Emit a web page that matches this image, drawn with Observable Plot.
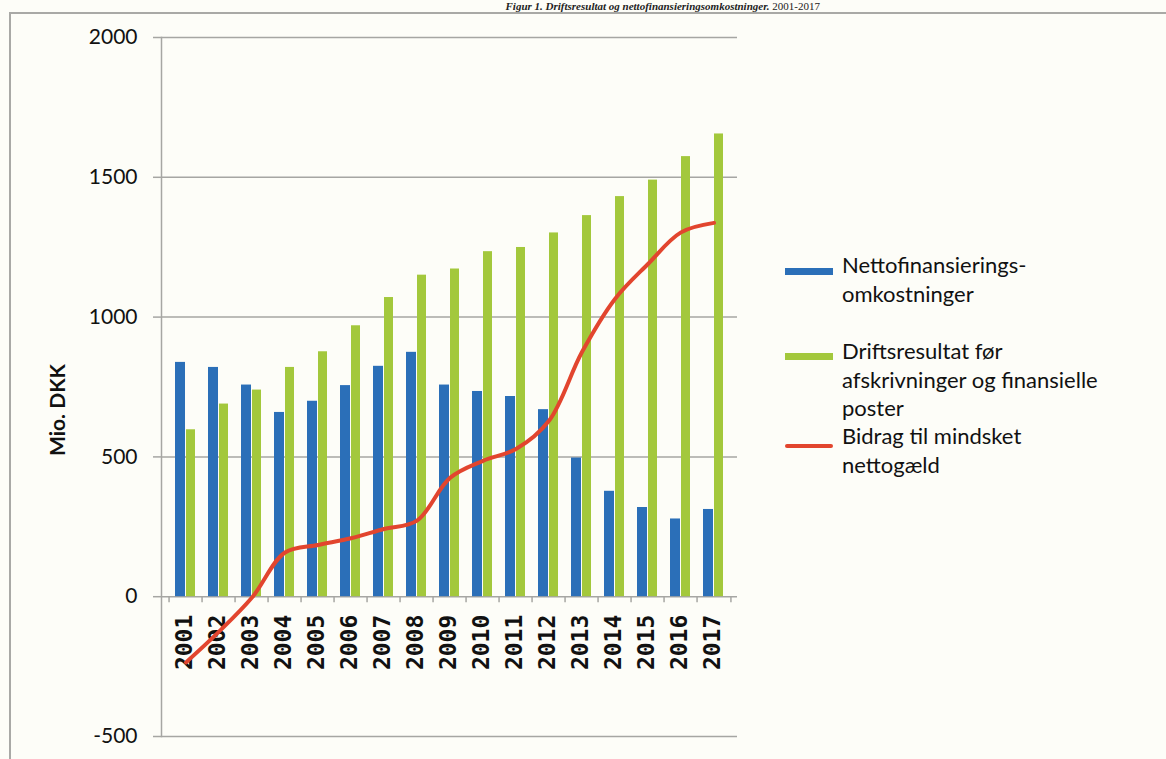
<!DOCTYPE html>
<html>
<head>
<meta charset="utf-8">
<script src="https://cdn.jsdelivr.net/npm/d3@7"></script>
<script src="https://cdn.jsdelivr.net/npm/@observablehq/plot@0.6"></script>
<style>
  html, body { margin: 0; padding: 0; background: #fdfdf8; }
  #wrap { position: relative; width: 1166px; height: 759px; overflow: hidden; background: #fdfdf8; }
  #border { position: absolute; left: 9px; top: 12px; width: 1200px; height: 800px; border-left: 2px solid #a9a9a6; border-top: 2px solid #a9a9a6; }
  #title { position: absolute; right: 346px; top: 0px; white-space: nowrap; font-family: "Liberation Serif", serif; font-size: 11px; line-height: 12px; color: #222; }
  #title i { font-weight: bold; }
  #chart { position: absolute; left: 0; top: 0; }
  #ylabel { position: absolute; left: -43px; top: 397px; width: 200px; height: 26px; line-height: 26px; text-align: center; transform: rotate(-90deg); transform-origin: 100px 13px; font-family: Lato, sans-serif; font-weight: bold; font-size: 21px; color: #111; white-space: nowrap; }
  .sw { position: absolute; left: 785px; width: 48px; }
  .lt { position: absolute; left: 842px; font-family: Lato, sans-serif; font-size: 22px; line-height: 28.5px; color: #111; white-space: nowrap; }
</style>
</head>
<body>
<div id="wrap">
  <div id="border"></div>
  <div id="title"><i>Figur 1. Driftsresultat og nettofinansieringsomkostninger.</i> 2001-2017</div>
  <div id="chart"></div>
  <div id="ylabel">Mio. DKK</div>
  <div class="sw" style="top:268px;height:7px;background:#2b6fb8"></div>
  <div class="lt" style="top:251px">Nettofinansierings-<br>omkostninger</div>
  <div class="sw" style="top:353px;height:7px;background:#a3c83c"></div>
  <div class="lt" style="top:337px">Driftsresultat før<br>afskrivninger og finansielle<br>poster</div>
  <div class="sw" style="top:444px;height:4px;background:#e2452e;border-radius:2px"></div>
  <div class="lt" style="top:422px">Bidrag til mindsket<br>nettogæld</div>
</div>
<script>
const years = ["2001","2002","2003","2004","2005","2006","2007","2008","2009","2010","2011","2012","2013","2014","2015","2016","2017"];
const nettofinansiering = [838, 820, 757, 659, 699, 755, 824, 874, 757, 734, 716, 669, 496, 377, 319, 278, 312];
const driftsresultat = [597, 689, 739, 820, 876, 969, 1070, 1150, 1172, 1234, 1249, 1301, 1363, 1431, 1490, 1574, 1655];
const bidrag = [-235, -125, -3, 158, 185, 209, 242, 272, 425, 486, 528, 629, 875, 1065, 1190, 1303, 1337];
const yTicks = [-500, 0, 500, 1000, 1500, 2000];

const rows = years.map((y, i) => ({year: y, net: nettofinansiering[i], drift: driftsresultat[i], bidrag: bidrag[i]}));

const W = 1166, H = 759;
const mL = 161, mR = 429, mT = 37, mB = 23;
const bw = (W - mL - mR) / years.length;
const gray = "#a6a6a3";

const chart = Plot.plot({
  width: W, height: H,
  marginLeft: mL, marginRight: mR, marginTop: mT, marginBottom: mB,
  style: {background: "transparent", overflow: "visible"},
  x: {domain: years, padding: 0, axis: null},
  y: {domain: [-500, 2000], axis: null},
  marks: [
    Plot.ruleY(yTicks, {stroke: gray, strokeWidth: 1.5}),
    Plot.axisY({ticks: yTicks, tickSize: 8, tickPadding: 16, fontSize: 21, fontFamily: "Lato, sans-serif", fill: "#111", stroke: gray, strokeWidth: 1.5, tickFormat: d => String(d).replace("−", "-"), label: null}),
    Plot.frame({anchor: "left", stroke: gray, strokeWidth: 1.5}),
    Plot.barY(rows, {x: "year", y: "net", fill: "#2b6fb8", insetLeft: 6, insetRight: 17}),
    Plot.barY(rows, {x: "year", y: "drift", fill: "#a3c83c", insetLeft: 17, insetRight: 7}),
    Plot.ruleX(rows, {x: "year", y1: 0, y2: -22, dx: -bw / 2, stroke: gray, strokeWidth: 1.5}),
    Plot.ruleX(rows.slice(-1), {x: "year", y1: 0, y2: -22, dx: bw / 2, stroke: gray, strokeWidth: 1.5}),
    Plot.text(rows, {x: "year", y: 0, text: "year", rotate: -90, textAnchor: "end", lineAnchor: "middle", dy: 18, dx: -1, fontSize: 23, fontWeight: "bold", fontFamily: "'DejaVu Sans Mono', monospace", fill: "#111"}),
    Plot.line(rows, {x: "year", y: "bidrag", stroke: "#e2452e", strokeWidth: 4, curve: "catmull-rom"})
  ]
});
document.getElementById("chart").appendChild(chart);
</script>
</body>
</html>
